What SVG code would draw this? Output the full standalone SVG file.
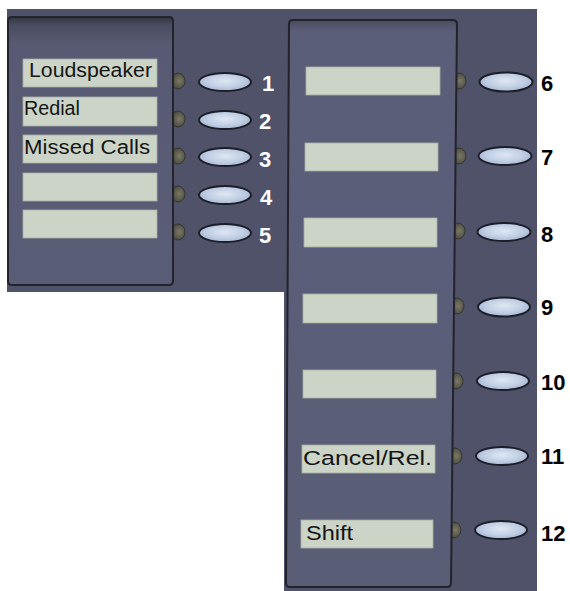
<svg xmlns="http://www.w3.org/2000/svg" width="570" height="591" viewBox="0 0 570 591">
<defs>
  <radialGradient id="btn" cx="0.5" cy="0.45" r="0.6">
    <stop offset="0" stop-color="#dfe7f3"/>
    <stop offset="0.6" stop-color="#bfcde3"/>
    <stop offset="1" stop-color="#9fb0cc"/>
  </radialGradient>
  <radialGradient id="led" cx="0.6" cy="0.5" r="0.6">
    <stop offset="0" stop-color="#7a7866"/>
    <stop offset="1" stop-color="#45443a"/>
  </radialGradient>
  <linearGradient id="bezL" x1="0" y1="0" x2="0" y2="1">
    <stop offset="0" stop-color="#34363f"/>
    <stop offset="0.03" stop-color="#4a4c60"/>
    <stop offset="0.1" stop-color="#575a72"/>
    <stop offset="1" stop-color="#5a5d76"/>
  </linearGradient>
  <linearGradient id="bezR" x1="0" y1="0" x2="0" y2="1">
    <stop offset="0" stop-color="#4a4c5e"/>
    <stop offset="0.02" stop-color="#5b5e78"/>
    <stop offset="1" stop-color="#5a5d76"/>
  </linearGradient>
</defs>
<style>
  .bg { fill: #4f5268; }
  .bezel { stroke: #22232b; stroke-width: 2; }
  .box { fill: #cbd4c7; stroke: #a9b0a4; stroke-width: 0.8; }
  .key { fill: url(#btn); stroke: #1c1e2a; stroke-width: 2; }
  .led { fill: url(#led); stroke: #2e2e28; stroke-width: 0.8; }
  .lbl { font-family: "Liberation Sans", Arial, sans-serif; font-size: 20px; fill: #141414; }
  .numw { font-family: "Liberation Sans", Arial, sans-serif; font-size: 22px; font-weight: bold; fill: #ffffff; }
  .numb { font-family: "Liberation Sans", Arial, sans-serif; font-size: 22px; font-weight: bold; fill: #000000; }
</style>
<rect width="570" height="591" fill="#ffffff"/>
<g id="housing">
  <rect class="bg" x="7" y="9" width="281" height="283"/>
  <rect class="bg" x="284" y="9" width="253" height="582"/>
</g>
<g id="leds">
  <ellipse class="led" cx="178" cy="81" rx="7" ry="8"/>
  <ellipse class="led" cx="178" cy="119" rx="7" ry="8"/>
  <ellipse class="led" cx="178" cy="156" rx="7" ry="8"/>
  <ellipse class="led" cx="178" cy="194" rx="7" ry="8"/>
  <ellipse class="led" cx="178" cy="232" rx="7" ry="8"/>
  <ellipse class="led" cx="459" cy="81" rx="7" ry="8"/>
  <ellipse class="led" cx="459" cy="156" rx="7" ry="8"/>
  <ellipse class="led" cx="458" cy="231" rx="7" ry="8"/>
  <ellipse class="led" cx="457" cy="306" rx="7" ry="8"/>
  <ellipse class="led" cx="456" cy="381" rx="7" ry="8"/>
  <ellipse class="led" cx="455" cy="456" rx="7" ry="8"/>
  <ellipse class="led" cx="454" cy="530" rx="7" ry="8"/>
</g>
<g id="bezel-left">
  <path class="bezel" fill="url(#bezL)" d="M12,17 L169,17 Q173,17 173,21 L173,281 Q173,285 169,285 L12,285 Q8,285 8,281 L8,21 Q8,17 12,17 Z"/>
</g>
<g id="bezel-right">
  <path class="bezel" fill="url(#bezR)" d="M293,20 L453,20 Q457,20 457,24 L451,583 Q451,587 447,587 L290,587 Q286,587 286,583 L289,24 Q289,20 293,20 Z"/>
</g>
<g id="key1">
  <rect class="box" x="23" y="59" width="134" height="28"/>
  <text class="lbl" x="29" y="77" textLength="123" lengthAdjust="spacingAndGlyphs">Loudspeaker</text>
  <ellipse class="key" cx="225" cy="82" rx="26" ry="9"/>
  <text class="numw" x="262" y="91">1</text>
</g>
<g id="key2">
  <rect class="box" x="23" y="97" width="134" height="29"/>
  <text class="lbl" x="24" y="115" textLength="56" lengthAdjust="spacingAndGlyphs">Redial</text>
  <ellipse class="key" cx="225" cy="120" rx="26" ry="9"/>
  <text class="numw" x="259" y="129">2</text>
</g>
<g id="key3">
  <rect class="box" x="23" y="135" width="134" height="28"/>
  <text class="lbl" x="24" y="154" textLength="126" lengthAdjust="spacingAndGlyphs">Missed Calls</text>
  <ellipse class="key" cx="225" cy="157" rx="26" ry="9"/>
  <text class="numw" x="259" y="167">3</text>
</g>
<g id="key4">
  <rect class="box" x="23" y="173" width="134" height="28"/>
  <ellipse class="key" cx="225" cy="195" rx="26" ry="9"/>
  <text class="numw" x="260" y="205">4</text>
</g>
<g id="key5">
  <rect class="box" x="23" y="210" width="134" height="28"/>
  <ellipse class="key" cx="225" cy="233" rx="26" ry="9"/>
  <text class="numw" x="259" y="243">5</text>
</g>
<g id="key6">
  <rect class="box" x="306" y="67" width="134" height="28"/>
  <ellipse class="key" cx="506" cy="82" rx="26.5" ry="9.5"/>
  <text class="numb" x="541" y="91">6</text>
</g>
<g id="key7">
  <rect class="box" x="305" y="143" width="133" height="28"/>
  <ellipse class="key" cx="505" cy="156" rx="26.5" ry="9"/>
  <text class="numb" x="541" y="165">7</text>
</g>
<g id="key8">
  <rect class="box" x="304" y="218" width="133" height="29"/>
  <ellipse class="key" cx="504" cy="232" rx="26.5" ry="9"/>
  <text class="numb" x="541" y="242">8</text>
</g>
<g id="key9">
  <rect class="box" x="303" y="294" width="134" height="29"/>
  <ellipse class="key" cx="504" cy="307" rx="26" ry="9.5"/>
  <text class="numb" x="541" y="315">9</text>
</g>
<g id="key10">
  <rect class="box" x="303" y="370" width="133" height="28"/>
  <ellipse class="key" cx="503" cy="381" rx="26" ry="9"/>
  <text class="numb" x="541" y="390">10</text>
</g>
<g id="key11">
  <rect class="box" x="302" y="445" width="133" height="28"/>
  <text class="lbl" x="303" y="465" font-size="21" textLength="129" lengthAdjust="spacingAndGlyphs">Cancel/Rel.</text>
  <ellipse class="key" cx="502" cy="456" rx="26" ry="9"/>
  <text class="numb" x="541" y="464">11</text>
</g>
<g id="key12">
  <rect class="box" x="301" y="520" width="132" height="28"/>
  <text class="lbl" x="306" y="540" font-size="22" textLength="47" lengthAdjust="spacingAndGlyphs">Shift</text>
  <ellipse class="key" cx="501" cy="530" rx="26" ry="9"/>
  <text class="numb" x="541" y="541">12</text>
</g>
</svg>
